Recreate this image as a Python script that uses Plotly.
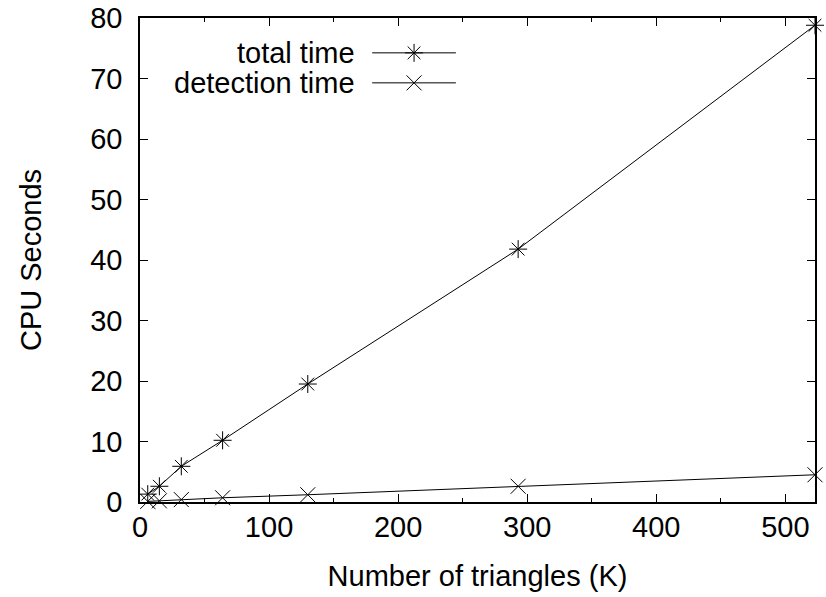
import plotly.graph_objects as go

# Data
triangles_k = [6, 15, 32, 64, 130, 293, 523]
total_time = [1.3, 2.6, 5.9, 10.2, 19.5, 41.8, 78.8]
detection_time = [0.1, 0.2, 0.4, 0.7, 1.2, 2.6, 4.5]

series_names = ["total time", "detection time"]
series_symbols = ["asterisk-open", "x-thin-open"]

x_ticks = [0, 100, 200, 300, 400, 500]
y_ticks = [0, 10, 20, 30, 40, 50, 60, 70, 80]

FONT = "Liberation Sans, Arial, Helvetica, sans-serif"
FS = 29

fig = go.Figure()

for name, ys, sym in zip(series_names, [total_time, detection_time], series_symbols):
    fig.add_trace(go.Scatter(
        x=triangles_k, y=ys, mode="lines+markers", name=name,
        line=dict(color="black", width=1),
        marker=dict(symbol=sym, size=15, color="black", line=dict(color="black", width=1)),
        showlegend=False, cliponaxis=False,
    ))

# gnuplot-style legend (text right-aligned, sample line with marker to the right)
legend_rows = [0.928, 0.866]
for name, sym, ly in zip(series_names, series_symbols, legend_rows):
    fig.add_annotation(x=0.321, y=ly, xref="paper", yref="paper", text=name,
                       showarrow=False, xanchor="right", yanchor="middle",
                       font=dict(family=FONT, size=FS, color="black"))
    fig.add_shape(type="line", xref="paper", yref="paper", x0=0.344, x1=0.468,
                  y0=ly, y1=ly, line=dict(color="black", width=1))
    fig.add_trace(go.Scatter(
        x=[0.406], y=[ly], xaxis="x2", yaxis="y2", mode="markers",
        marker=dict(symbol=sym, size=15, color="black", line=dict(color="black", width=1)),
        showlegend=False, hoverinfo="skip",
    ))

axis_common = dict(
    showline=True, linecolor="black", linewidth=1.5, mirror="allticks",
    ticks="inside", ticklen=8, tickwidth=1, tickcolor="black",
    showgrid=False, zeroline=False, automargin=False, ticklabeloverflow="allow",
    tickfont=dict(family=FONT, size=FS, color="black"),
)

fig.update_layout(
    width=826, height=597,
    margin=dict(l=140, r=11, t=18, b=95),
    paper_bgcolor="white", plot_bgcolor="white",
    font=dict(family=FONT, size=FS, color="black"),
    xaxis=dict(range=[0, 523], tickvals=x_ticks, ticklabelstandoff=-2,
               minor=dict(dtick=50, ticks="inside", ticklen=4, tickcolor="black", tickwidth=1, showgrid=False),
               title=dict(text="Number of triangles (K)", standoff=24,
                          font=dict(family=FONT, size=FS, color="black")),
               **axis_common),
    yaxis=dict(range=[0, 80], tickvals=y_ticks, ticklabelstandoff=10,
               title=dict(text="CPU Seconds", standoff=40,
                          font=dict(family=FONT, size=FS, color="black")),
               **axis_common),
    xaxis2=dict(range=[0, 1], overlaying="x", visible=False, fixedrange=True),
    yaxis2=dict(range=[0, 1], overlaying="y", visible=False, fixedrange=True),
    showlegend=False,
)

fig.write_html("out.html", config={"displayModeBar": False},
               post_script="document.body.style.margin='0';")
